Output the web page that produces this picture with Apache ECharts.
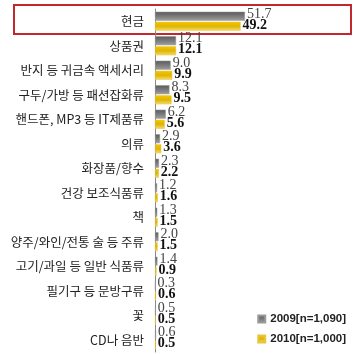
<!DOCTYPE html>
<html><head><meta charset="utf-8">
<script src="https://cdn.jsdelivr.net/npm/echarts@6/dist/echarts.min.js"></script>
<style>html,body{margin:0;padding:0;background:#fff}#c{width:357px;height:354px}</style>
</head><body><div id="c"></div>
<script>
const categories = ['현금','상품권','반지 등 귀금속 액세서리','구두/가방 등 패션잡화류','핸드폰, MP3 등 IT제품류','의류','화장품/향수','건강 보조식품류','책','양주/와인/전통 술 등 주류','고기/과일 등 일반 식품류','필기구 등 문방구류','꽃','CD나 음반'];
const values2009 = [51.7,12.1,9.0,8.3,6.2,2.9,2.3,1.2,1.3,2.0,1.4,0.3,0.5,0.6];
const values2010 = [49.2,12.1,9.9,9.5,5.6,3.6,2.2,1.6,1.5,1.5,0.9,0.6,0.5,0.5];
const seriesNames = ['2009[n=1,090]','2010[n=1,000]'];

const chart = echarts.init(document.getElementById('c'));
chart.setOption({
  animation:false,
  grid:{left:155, top:9, width:174, bottom:2, containLabel:false},
  xAxis:{type:'value', min:0, max:100, show:false},
  yAxis:{type:'category', data:categories, inverse:true,
    axisLine:{lineStyle:{color:'#8a8a8a', width:1}}, axisTick:{show:false},
    axisLabel:{fontFamily:'Noto Sans CJK KR', fontSize:12.5, color:'#222', margin:11}},
  legend:{orient:'vertical', right:6, bottom:4, itemWidth:7, itemHeight:7, itemGap:8, icon:'rect',
    textStyle:{fontFamily:'Liberation Sans', fontSize:11.5, fontWeight:'bold', color:'#222', letterSpacing:-0.3},
    data:seriesNames},
  series:[
    {name:seriesNames[0], type:'bar', data:values2009, barWidth:9, barGap:'12%',
     itemStyle:{color:new echarts.graphic.LinearGradient(0,0,0,1,[{offset:0,color:'#5a5a5a'},{offset:0.5,color:'#7a7a7a'},{offset:1,color:'#a0a0a0'}]), borderColor:'#9a9a9a', borderWidth:0.5},
     label:{show:true, position:'right', distance:2, offset:[0,-2], formatter:p=>p.value.toFixed(1), fontFamily:'Liberation Serif', fontSize:14, color:'#444'}},
    {name:seriesNames[1], type:'bar', data:values2010, barWidth:9,
     itemStyle:{color:new echarts.graphic.LinearGradient(0,0,0,1,[{offset:0,color:'#f2c800'},{offset:0.5,color:'#e0b400'},{offset:1,color:'#f5dc70'}]), borderColor:'#e6c640', borderWidth:0.5},
     label:{show:true, position:'right', distance:2, offset:[0,-1], formatter:p=>p.value.toFixed(1), fontFamily:'Liberation Serif', fontWeight:'bold', fontSize:14, color:'#111'}}
  ],
  graphic:[{type:'rect', shape:{x:14, y:5, width:337, height:29}, style:{fill:'none', stroke:'#c0282d', lineWidth:2}}]
});
</script></body></html>
